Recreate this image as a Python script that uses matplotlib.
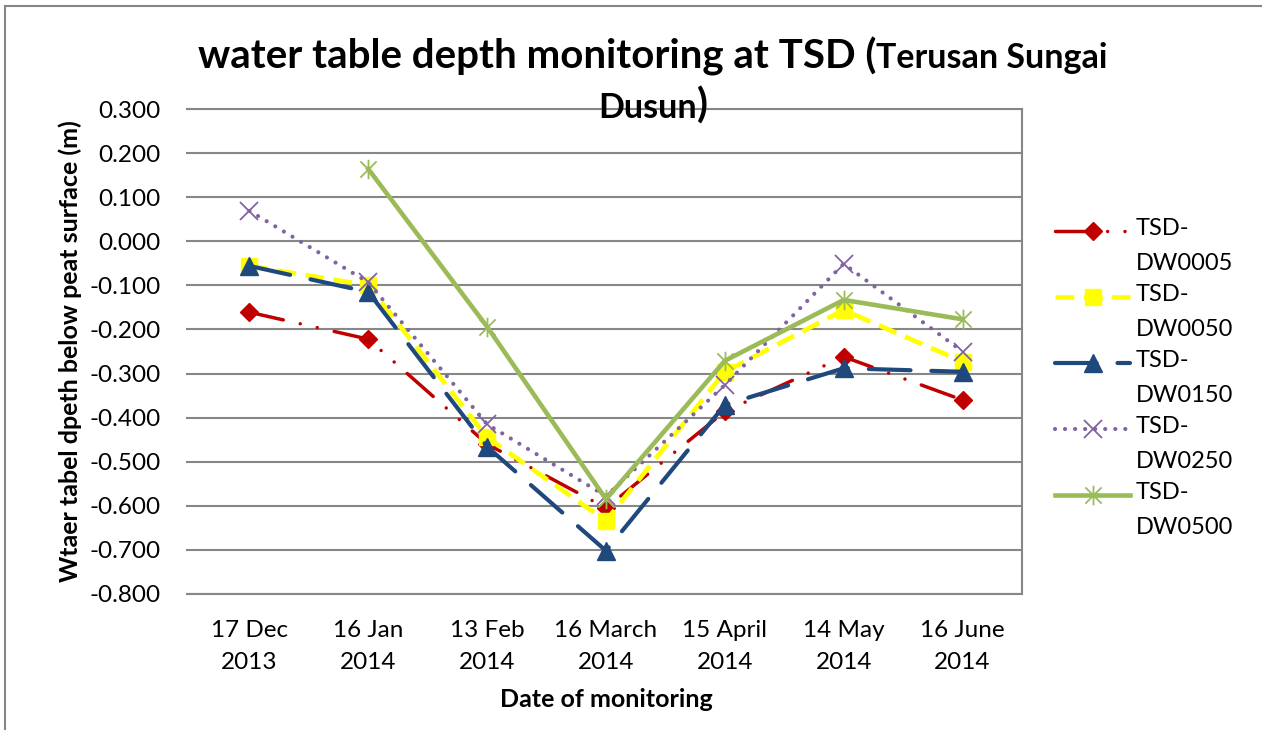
import numpy as np
import matplotlib
matplotlib.use("Agg")
import matplotlib.pyplot as plt
from matplotlib.lines import Line2D
from matplotlib.path import Path

# ---------------- data ----------------
dates = ["17 Dec\n2013", "16 Jan\n2014", "13 Feb\n2014", "16 March\n2014",
         "15 April\n2014", "14 May\n2014", "16 June\n2014"]
series_names = ["TSD-DW0005", "TSD-DW0050", "TSD-DW0150", "TSD-DW0250", "TSD-DW0500"]
legend_labels = ["TSD-\nDW0005", "TSD-\nDW0050", "TSD-\nDW0150", "TSD-\nDW0250", "TSD-\nDW0500"]
dw0005 = [-0.161, -0.222, -0.460, -0.605, -0.386, -0.262, -0.360]
dw0050 = [-0.056, -0.100, -0.445, -0.634, -0.296, -0.156, -0.273]
dw0150 = [-0.056, -0.115, -0.466, -0.702, -0.371, -0.288, -0.296]
dw0250 = [0.069, -0.093, -0.415, -0.578, -0.326, -0.051, -0.250]
dw0500 = [np.nan, 0.164, -0.194, -0.585, -0.271, -0.133, -0.177]
yticks = [0.3, 0.2, 0.1, 0.0, -0.1, -0.2, -0.3, -0.4, -0.5, -0.6, -0.7, -0.8]

title_big1 = "water table depth monitoring at TSD ("
title_small1 = "Terusan Sungai"
title_small2 = "Dusun"
title_big2 = ")"
ylabel = "Wtaer tabel dpeth below peat surface (m)"
xlabel = "Date of monitoring"

# ---------------- styles ----------------
W, H = 1262, 730
FONT = "Lato"
plt.rcParams['font.family'] = [FONT, 'DejaVu Sans']

star = Path([(-1, -1), (1, 1), (-1, 1), (1, -1), (0, -1.2), (0, 1.2)],
            [Path.MOVETO, Path.LINETO, Path.MOVETO, Path.LINETO, Path.MOVETO, Path.LINETO])

styles = [
    dict(color="#C00000", lw=2.5, ls=(0, (10, 5, 0.01, 5, 0.01, 5)), marker="D", ms=9.5,
         mfc="#C00000", mec="#C00000", mew=1, capstyle="round"),
    dict(color="#FFFF00", lw=3.4, ls=(0, (4, 2)), marker="s", ms=12,
         mfc="#FFFF00", mec="#FFFF00", mew=1, capstyle="butt"),
    dict(color="#1F497D", lw=3.0, ls=(0, (10, 5)), marker="^", ms=13,
         mfc="#1F497D", mec="#1F497D", mew=1, capstyle="round"),
    dict(color="#8064A2", lw=3.0, ls=(0, (0.01, 2.4)), marker="x", ms=13.5,
         mfc="none", mec="#8064A2", mew=1.3, capstyle="round"),
    dict(color="#9BBB59", lw=3.3, ls="-", marker=star, ms=14,
         mfc="none", mec="#9BBB59", mew=1.3, capstyle="round"),
]
series = [dw0005, dw0050, dw0150, dw0250, dw0500]

fig = plt.figure(figsize=(W / 100, H / 100), dpi=100)
# outer chart border (top and left only visible)
fig.add_artist(Line2D([5 / W, 5 / W], [0, 1 - 6 / H], color="#868686", lw=1.5))
fig.add_artist(Line2D([5 / W, 1], [1 - 6 / H, 1 - 6 / H], color="#868686", lw=1.5))

L, R, T, B = 190, 1022, 109, 594
ax = fig.add_axes([L / W, 1 - B / H, (R - L) / W, (B - T) / H])

x = np.arange(len(dates))
for vals, st in zip(series, styles):
    line, = ax.plot(x, vals, color=st["color"], lw=st["lw"], ls=st["ls"],
                    marker=st["marker"], ms=st["ms"], mfc=st["mfc"], mec=st["mec"],
                    mew=st["mew"], clip_on=False)
    line.set_dash_capstyle(st["capstyle"])

ax.set_xlim(-0.5, len(dates) - 0.5)
ax.set_ylim(-0.8, 0.3)
ax.set_yticks(yticks)
ax.set_yticklabels([f"{v:.3f}" for v in yticks])
ax.set_xticks(x)
ax.set_xticklabels(dates, linespacing=1.6)
ax.yaxis.grid(True, color="#878787", lw=1.5)
ax.set_axisbelow(True)
ax.spines["left"].set_visible(False)
for s in ["top", "right", "bottom"]:
    ax.spines[s].set_color("#868686")
    ax.spines[s].set_linewidth(1.5)
ax.tick_params(axis="y", length=3, width=1.5, color="#868686", pad=18, labelsize=17.5)
ax.tick_params(axis="x", length=0, pad=19, labelsize=17.5)

ax.set_ylabel(ylabel, fontsize=18, fontweight="bold")
ax.yaxis.set_label_coords((82 - L) / (R - L), 0.5)
ax.set_xlabel(xlabel, fontsize=18, fontweight="bold", va="top")
ax.xaxis.set_label_coords(0.5, -(688 - B) / (B - T))

# ---------------- legend (manual) ----------------
lx0, lx1, ltx = 1055, 1130, 1136
ly0, lstep = 231, 66
for i, (st, lab) in enumerate(zip(styles, legend_labels)):
    yc = ly0 + i * lstep
    yy = 1 - yc / H
    ln = Line2D([lx0 / W, (lx0 + lx1) / 2 / W, lx1 / W], [yy, yy, yy],
                color=st["color"], lw=st["lw"], ls=st["ls"], marker=st["marker"],
                ms=st["ms"], mfc=st["mfc"], mec=st["mec"], mew=st["mew"], markevery=[1])
    ln.set_dash_capstyle(st["capstyle"])
    fig.add_artist(ln)
    fig.text(ltx / W, 1 - (yc - 13) / H, lab, fontsize=17, va="top", ha="left",
             linespacing=1.85)

# ---------------- title (mixed sizes) ----------------
fig.canvas.draw()
r = fig.canvas.get_renderer()
FS_BIG, FS_SMALL = 29, 24.5
cx = 653
t1 = fig.text(0, 1 - 68 / H, title_big1, fontsize=FS_BIG, fontweight="bold", va="baseline")
t2 = fig.text(0, 1 - 68 / H, title_small1, fontsize=FS_SMALL, fontweight="bold", va="baseline")
t3 = fig.text(0, 1 - 118 / H, title_small2, fontsize=FS_SMALL, fontweight="bold", va="baseline")
t4 = fig.text(0, 1 - 118 / H, title_big2, fontsize=FS_BIG, fontweight="bold", va="baseline")
w1 = t1.get_window_extent(r).width
w2 = t2.get_window_extent(r).width
x0 = cx - (w1 + w2) / 2
t1.set_x(x0 / W)
t2.set_x((x0 + w1) / W)
w3 = t3.get_window_extent(r).width
w4 = t4.get_window_extent(r).width
x0 = cx - (w3 + w4) / 2
t3.set_x(x0 / W)
t4.set_x((x0 + w3) / W)

fig.savefig("out.png", dpi=100, facecolor="white")
